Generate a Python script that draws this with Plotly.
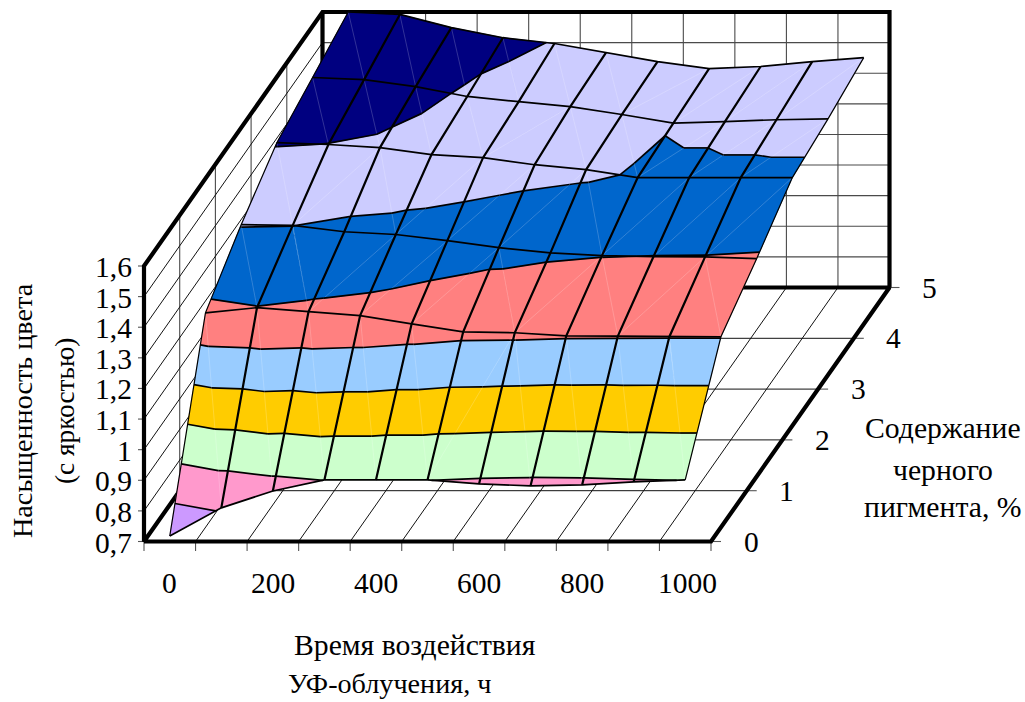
import plotly.graph_objects as go

# ---------- data ----------
hours = [0, 100, 200, 300, 400, 500, 600, 700, 800, 900, 1000]
pigment = [0, 1, 2, 3, 4, 5]
sat_0 = [0.718, 0.810, 0.865, 0.901, 0.901, 0.901, 0.888, 0.882, 0.885, 0.895, 0.901]
sat_1 = [1.281, 1.298, 1.285, 1.272, 1.245, 1.219, 1.216, 1.206, 1.205, 1.203, 1.203]
sat_2 = [1.403, 1.401, 1.380, 1.371, 1.351, 1.328, 1.311, 1.302, 1.299, 1.298, 1.292]
sat_3 = [1.505, 1.499, 1.489, 1.466, 1.456, 1.433, 1.417, 1.391, 1.391, 1.391, 1.391]
sat_4 = [1.552, 1.545, 1.522, 1.490, 1.473, 1.457, 1.431, 1.4027, 1.408, 1.414, 1.417]
sat_5 = [1.600, 1.592, 1.549, 1.516, 1.497, 1.467, 1.438, 1.415, 1.422, 1.438, 1.451]
saturation = [sat_0, sat_1, sat_2, sat_3, sat_4, sat_5]

z_ticks = [0.7, 0.8, 0.9, 1.0, 1.1, 1.2, 1.3, 1.4, 1.5, 1.6]
z_labels = ["0,7", "0,8", "0,9", "1", "1,1", "1,2", "1,3", "1,4", "1,5", "1,6"]
x_labels = ["0", "200", "400", "600", "800", "1000"]
y_labels = ["0", "1", "2", "3", "4", "5"]
band_colors = ["#CC99FF", "#FF99CC", "#CCFFCC", "#FFCC00", "#99CCFF",
               "#FF8080", "#0066CC", "#CCCCFF", "#000080"]

# ---------- oblique projection of the 3-D box onto the page ----------
OX, OY = 144.0, 541.5      # front-left floor corner
WX = 567.0                 # width of box
DX, DY = 178.5, -254.0     # depth vector
HZ = 275.5                 # height of box
Z0, Z1 = 0.7, 1.6
NX = len(hours)
NY = len(pigment)


def proj(u, v, z):
    """u,v in box fractions, z in data units"""
    return (OX + WX * u + DX * v, OY + DY * v - HZ * (z - Z0) / (Z1 - Z0))


def surf(i, j, z):
    return proj((i + 0.5) / NX, j / (NY - 1), z)


fig = go.Figure()


def add_lines(segs, color, width):
    xs, ys = [], []
    for seg in segs:
        for p in seg:
            xs.append(p[0])
            ys.append(p[1])
        xs.append(None)
        ys.append(None)
    fig.add_trace(go.Scatter(x=xs, y=ys, mode="lines", hoverinfo="skip", showlegend=False,
                             line=dict(color=color, width=width)))


# ---------- walls and floor ----------
grey, thin = [], []
for z in z_ticks[1:-1]:
    grey.append([proj(0, 1, z), proj(1, 1, z)])
for z in z_ticks[1:-1]:
    thin.append([proj(0, 0, z), proj(0, 1, z)])
for k in range(1, NX):
    grey.append([proj(k / NX, 1, Z0), proj(k / NX, 1, Z1)])
for k in range(1, NY - 1):
    grey.append([proj(0, k / (NY - 1), Z0), proj(0, k / (NY - 1), Z1)])
for k in range(1, NX):
    thin.append([proj(k / NX, 0, Z0), proj(k / NX, 1, Z0)])
for k in range(1, NY - 1):
    thin.append([proj(0, k / (NY - 1), Z0), proj(1, k / (NY - 1), Z0)])
# tick marks
ticks = []
for k in range(NX + 1):
    a = proj(k / NX, 0, Z0)
    ticks.append([a, (a[0], a[1] + 9.5)])
for z in z_ticks:
    a = proj(0, 0, z)
    ticks.append([(a[0] - 6, a[1]), a])
for k in range(NY):
    a = proj(1, k / (NY - 1), Z0)
    ticks.append([a, (a[0] + 10, a[1])])
add_lines(grey, "#4a4a4a", 1.1)
add_lines(thin, "#111111", 1)
add_lines(ticks, "#555555", 1.1)
add_lines([
    [proj(0, 0, Z0), proj(1, 0, Z0), proj(1, 1, Z0), proj(0, 1, Z0), proj(0, 0, Z0),
     proj(0, 0, Z1), proj(0, 1, Z1), proj(1, 1, Z1), proj(1, 1, Z0)],
    [proj(0, 1, Z0), proj(0, 1, Z1)],
], "#000000", 4.2)


# ---------- surface split into triangles and colour bands ----------
def cell_triangles(i, j):
    def v(a, b):
        return (a, b, saturation[b][a])
    a = saturation[j][i] + saturation[j + 1][i + 1]
    b = saturation[j][i + 1] + saturation[j + 1][i]
    if a >= b:
        return [(v(i, j), v(i + 1, j), v(i + 1, j + 1)),
                (v(i, j), v(i + 1, j + 1), v(i, j + 1))], (v(i, j), v(i + 1, j + 1))
    return [(v(i, j), v(i + 1, j), v(i, j + 1)),
            (v(i + 1, j), v(i + 1, j + 1), v(i, j + 1))], (v(i + 1, j), v(i, j + 1))


def lerp(p, q, level):
    t = (level - p[2]) / (q[2] - p[2])
    return (p[0] + t * (q[0] - p[0]), p[1] + t * (q[1] - p[1]), level)


def clip(poly, level, keep_above):
    out = []
    for k, p in enumerate(poly):
        q = poly[(k + 1) % len(poly)]
        pin = p[2] >= level if keep_above else p[2] <= level
        qin = q[2] >= level if keep_above else q[2] <= level
        if pin:
            out.append(p)
        if pin != qin:
            out.append(lerp(p, q, level))
    return out


def to_page(p):
    return surf(p[0], p[1], p[2])


tris, diags = [], []
for j in range(NY - 1):
    for i in range(NX - 1):
        t, d = cell_triangles(i, j)
        tris.extend(t)
        diags.append(d)

for b, color in enumerate(band_colors):
    lo, hi = z_ticks[b], z_ticks[b + 1]
    xs, ys = [], []
    for tri in tris:
        poly = clip(clip(list(tri), lo, True), hi, False)
        if len(poly) < 3:
            continue
        for p in poly + poly[:1]:
            x, y = to_page(p)
            xs.append(x)
            ys.append(y)
        xs.append(None)
        ys.append(None)
    fig.add_trace(go.Scatter(x=xs, y=ys, mode="lines", fill="toself", fillcolor=color,
                             hoverinfo="skip", showlegend=False,
                             line=dict(color=color, width=0.6)))

# faint triangle seams
add_lines([[to_page(d[0]), to_page(d[1])] for d in diags], "rgba(255,255,255,0.28)", 0.7)

# contour lines between bands
contours = []
for level in z_ticks[1:-1]:
    for tri in tris:
        pts = []
        for k in range(3):
            p, q = tri[k], tri[(k + 1) % 3]
            if (p[2] - level) * (q[2] - level) < 0:
                pts.append(lerp(p, q, level))
        if len(pts) == 2:
            contours.append([to_page(pts[0]), to_page(pts[1])])
add_lines(contours, "#000000", 1.7)

# mesh
rows = [[surf(i, j, saturation[j][i]) for i in range(NX)] for j in range(NY)]
cols = [[surf(i, j, saturation[j][i]) for j in range(NY)] for i in range(1, NX - 1)]
edges = [[surf(i, j, saturation[j][i]) for j in range(NY)] for i in (0, NX - 1)]
add_lines(edges, "#000000", 1.2)
add_lines(rows, "#000000", 1.7)
add_lines(cols, "#000000", 2.2)

# ---------- text ----------
FONT = "Liberation Serif"
notes = []


def label(x, y, text, size=29.5, anchor="center", angle=0):
    notes.append(dict(x=x, y=y, xref="x", yref="y", text=text, showarrow=False,
                      xanchor=anchor, yanchor="middle", textangle=angle,
                      font=dict(family=FONT, size=size, color="#000000")))


for z, t in zip(z_ticks, z_labels):
    x, y = proj(0, 0, z)
    label(x - 10, y + 1, t, anchor="right")
for k, t in enumerate(x_labels):
    x, _ = surf(2 * k, 0, Z0)
    label(x + (2 if k == 5 else 0), 583, t)
for k, t in enumerate(y_labels):
    x, y = proj(1, k / (NY - 1), Z0)
    label(x + 40, y, t)
label(415, 645, "Время воздействия", size=29.7)
label(390, 683, "УФ-облучения, ч", size=28.2)
label(943, 428, "Содержание", size=29.7)
label(943, 470, "черного", size=29.7)
label(943, 507, "пигмента, %", size=29.7)
label(22, 411, "Насыщенность цвета", size=28.2, angle=-90)
label(65, 411, "(с яркостью)", size=27.3, angle=-90)

fig.update_layout(
    width=1025, height=702, margin=dict(l=0, r=0, t=0, b=0),
    paper_bgcolor="#FFFFFF", plot_bgcolor="#FFFFFF", showlegend=False,
    xaxis=dict(range=[0, 1025], visible=False, fixedrange=True),
    yaxis=dict(range=[702, 0], visible=False, fixedrange=True),
    annotations=notes,
)
fig.write_html("out.html", config={"displayModeBar": False},
               post_script="document.body.style.margin='0';document.body.style.overflow='hidden';")
